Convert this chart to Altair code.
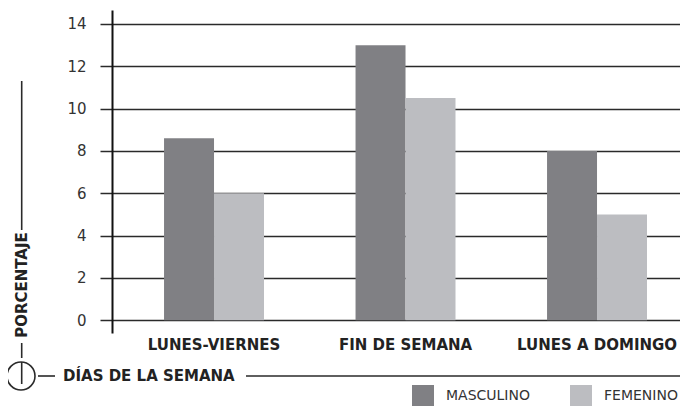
import altair as alt
import pandas as pd

categories = ["LUNES-VIERNES", "FIN DE SEMANA", "LUNES A DOMINGO"]
series = ["MASCULINO", "FEMENINO"]
masculino = [8.6, 13.0, 8.0]
femenino = [6.0, 10.5, 5.0]
y_ticks = [0, 2, 4, 6, 8, 10, 12, 14]
colors = ["#808084", "#bcbdc1"]

rows = []
for c, m, f in zip(categories, masculino, femenino):
    rows.append({"dia": c, "sexo": series[0], "valor": m})
    rows.append({"dia": c, "sexo": series[1], "valor": f})
df = pd.DataFrame(rows)

FONT = "DejaVu Sans"
LINE = "#2a2a2a"

bars = alt.Chart(df).mark_bar().encode(
    x=alt.X(
        "dia:N", sort=categories,
        scale=alt.Scale(paddingInner=0.478, paddingOuter=0.222, align=0.612),
        axis=alt.Axis(title=None, labelAngle=0, labelFont=FONT, labelFontWeight="bold",
                      labelFontSize=15, labelColor="#222", ticks=False, domain=False,
                      labelPadding=4, labelLimit=300),
    ),
    xOffset=alt.XOffset("sexo:N", sort=series, scale=alt.Scale(domain=series)),
    y=alt.Y(
        "valor:Q",
        scale=alt.Scale(domain=[-0.6, 14.66], nice=False),
        axis=alt.Axis(values=y_ticks, title=None, grid=True, gridColor=LINE, gridWidth=1.5,
                      tickSize=12, tickColor=LINE, tickWidth=1.5, domainColor="#111",
                      domainWidth=2, labelFont=FONT, labelFontSize=15, labelColor="#333",
                      labelPadding=14),
    ),
    y2=alt.datum(0),
    color=alt.Color(
        "sexo:N", sort=series,
        scale=alt.Scale(domain=series, range=colors),
        legend=alt.Legend(title=None, orient="none", legendX=300, legendY=375,
                          direction="horizontal", symbolType="square", symbolSize=484,
                          symbolStrokeWidth=0, labelFont=FONT, labelFontSize=14,
                          labelColor="#333", labelOffset=12, columnPadding=40, padding=0),
    ),
)

def vline(x, y1, y2):
    return alt.Chart().mark_rule(color=LINE, strokeWidth=1.6).encode(
        x=alt.value(x), y=alt.value(y1), y2=alt.value(y2))

def hline(x1, x2, y):
    return alt.Chart().mark_rule(color=LINE, strokeWidth=1.6).encode(
        x=alt.value(x1), x2=alt.value(x2), y=alt.value(y))

ytitle = alt.Chart().mark_text(text="PORCENTAJE", angle=270, font=FONT, fontWeight="bold",
                               fontSize=15, color="#222", align="center", baseline="middle").encode(
    x=alt.value(-90.5), y=alt.value(275))
xtitle = alt.Chart().mark_text(text="DÍAS DE LA SEMANA", font=FONT, fontWeight="bold",
                               fontSize=15, color="#222", align="left", baseline="middle").encode(
    x=alt.value(-49), y=alt.value(366))
circle = alt.Chart().mark_point(shape="circle", size=784, filled=False, color=LINE,
                                strokeWidth=1.6, opacity=1).encode(
    x=alt.value(-91), y=alt.value(366))

chart = alt.layer(
    bars,
    vline(-90.3, 71, 220),
    ytitle,
    vline(-90.3, 333, 348),
    circle,
    vline(-90.3, 352, 374),
    hline(-74, -57, 366),
    xtitle,
    hline(134, 568, 366),
).properties(
    width=568, height=323,
    autosize=alt.AutoSizeParams(type="none"),
    padding={"left": 104, "top": 2, "right": 0, "bottom": 73},
).configure_view(stroke=None)

chart.save("out.html", embed_options={"renderer": "svg", "actions": False})
